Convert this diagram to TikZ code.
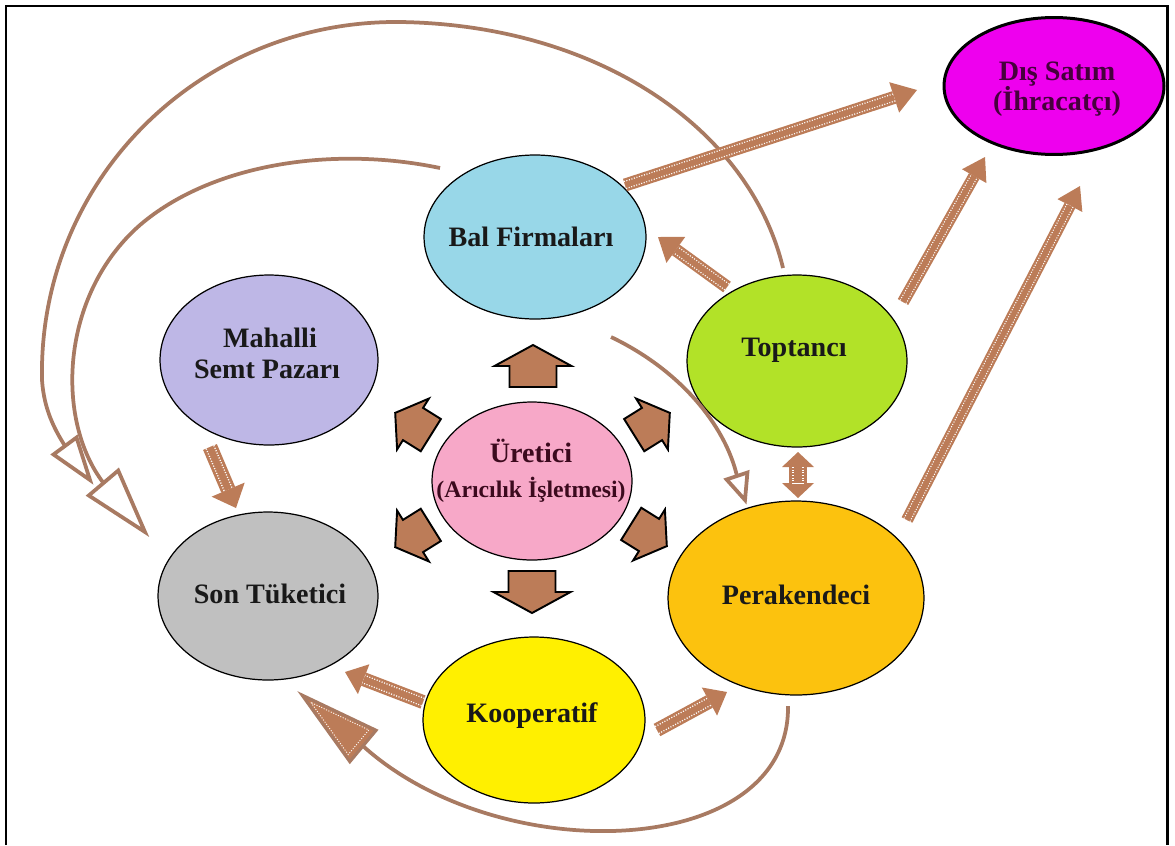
\documentclass[tikz,border=0pt]{standalone}
\usepackage{fontspec}
\setmainfont{Liberation Serif}
\usetikzlibrary{shapes.geometric,calc}
\definecolor{cbal}{RGB}{152,215,232}
\definecolor{cmah}{RGB}{190,183,230}
\definecolor{cson}{RGB}{192,192,192}
\definecolor{cure}{RGB}{247,168,200}
\definecolor{ctop}{RGB}{178,226,40}
\definecolor{cper}{RGB}{252,194,14}
\definecolor{ckoo}{RGB}{255,240,0}
\definecolor{cdis}{RGB}{238,0,238}
\definecolor{brn}{RGB}{188,124,88}
\definecolor{cbrn}{RGB}{168,122,98}
\definecolor{uretxt}{RGB}{60,10,30}
\definecolor{distxt}{RGB}{70,0,60}
% striped arrow: #1 tail, #2 tip, #3 shaft width px, #4 head half width px, #5 head length px
\newcommand\stripearrow[5]{%
  \coordinate (sb) at ($(#2)!#5*0.02cm!(#1)$);
  \fill[brn] (#2) -- ($(sb)!#4*0.02cm!90:(#2)$) -- ($(sb)!#4*0.02cm!-90:(#2)$) -- cycle;
  \draw[brn, line width=#3*0.02cm] (#1) -- (sb);
  \draw[white, line width=#3*0.013cm, dash pattern=on 0.6pt off 0.9pt] (#1) -- (sb);
  \draw[brn, line width=#3*0.009cm] (#1) -- (sb);
}
% triangular head: #1 style, #2 base mid, #3 tip, #4 half width (cm)
\newcommand\trihead[4]{%
  \coordinate (hl) at ($(#2)!#4!90:(#3)$);
  \coordinate (hr) at ($(#2)!#4!-90:(#3)$);
  \filldraw[#1] (#3) -- (hl) -- (hr) -- cycle;
}
\begin{document}
\begin{tikzpicture}[x=0.02cm,y=-0.02cm,
  ell/.style={ellipse,draw=black,line width=0.7pt,inner sep=0pt},
  lbl/.style={font=\bfseries\fontsize{16}{19}\selectfont,anchor=base,inner sep=0pt,text=black!90},
  smalllbl/.style={font=\bfseries\fontsize{13.5}{16}\selectfont,anchor=base,inner sep=0pt,text=uretxt},
  barrow/.style={fill=brn,draw=black,line width=1.1pt,line join=miter},
  flowcurve/.style={draw=cbrn,line width=0.075cm},
  headopen/.style={fill=white,draw=cbrn,line width=0.075cm,line join=miter},
  headfull/.style={fill=brn,draw=cbrn,line width=0.06cm,line join=miter}]
\useasboundingbox (0,0) rectangle (1175,845);
% frame
\draw[black,line width=0.06cm] (6,845) -- (6,6) -- (1167,6) -- (1167,845);

% ellipses
\node[ell,fill=cbal,minimum width=4.44cm,minimum height=3.28cm] (bal) at (535,237) {};
\node[ell,fill=cmah,minimum width=4.36cm,minimum height=3.40cm] (mah) at (269,360) {};
\node[ell,fill=cson,minimum width=4.40cm,minimum height=3.36cm] (son) at (268,596) {};
\node[ell,fill=cure,minimum width=4.00cm,minimum height=3.16cm] (ure) at (532,481) {};
\node[ell,fill=ctop,minimum width=4.40cm,minimum height=3.44cm] (top) at (797,361) {};
\node[ell,fill=cper,minimum width=5.12cm,minimum height=3.88cm] (per) at (796,598) {};
\node[ell,fill=ckoo,minimum width=4.44cm,minimum height=3.32cm] (koo) at (534,720) {};
\node[ell,fill=cdis,line width=0.06cm,minimum width=4.40cm,minimum height=2.74cm] (dis) at (1054,86) {};

% labels
\node[lbl] (balL) at (531,246) {Bal Firmaları};
\node[lbl] (mahL1) at (270,347) {Mahalli};
\node[lbl] (mahL2) at (267,378) {Semt Pazarı};
\node[lbl] (sonL) at (270,603) {Son Tüketici};
\node[lbl,text=uretxt] (ureL1) at (531,462) {Üretici};
\node[smalllbl] (ureL2) at (531,497) {(Arıcılık İşletmesi)};
\node[lbl] (topL) at (794,356) {Toptancı};
\node[lbl] (perL) at (796,604) {Perakendeci};
\node[lbl] (kooL) at (532,722) {Kooperatif};
\node[lbl,text=distxt] (disL1) at (1057,80) {Dış Satım};
\node[lbl,text=distxt] (disL2) at (1057,110) {(İhracatçı)};

% thin curved connectors
\coordinate (c1s) at (783,268); \coordinate (c1e) at (65,446); \coordinate (c1t) at (90,480);
\draw[flowcurve] (c1s) .. controls (750,130) and (600,25) .. (400,22)
   .. controls (200,20) and (38,180) .. (42,380)
   .. controls (44,410) and (55,430) .. (c1e);
\trihead{headopen}{c1e}{c1t}{0.286cm}

\coordinate (c2s) at (440,168); \coordinate (c2e) at (103.5,483); \coordinate (c2t) at (145,532);
\draw[flowcurve] (c2s) .. controls (330,145) and (210,165) .. (140,225)
   .. controls (60,295) and (55,420) .. (c2e);
\trihead{headopen}{c2e}{c2t}{0.386cm}

\coordinate (c3s) at (788,706); \coordinate (c3e) at (363,746); \coordinate (c3t) at (302,695);
\draw[flowcurve] (c3s) .. controls (790,860) and (500,870) .. (c3e);
\trihead{headfull}{c3e}{c3t}{0.41cm}
\coordinate (cen) at ($0.3333*(c3t)+0.3333*(hl)+0.3334*(hr)$);
\draw[white,line width=0.5pt,dash pattern=on 0.6pt off 0.9pt]
  ($(c3t)!0.22!(cen)$) -- ($(hl)!0.22!(cen)$) -- ($(hr)!0.22!(cen)$) -- cycle;

\coordinate (c4s) at (611,337); \coordinate (c4e) at (737,476); \coordinate (c4t) at (745,500);
\draw[flowcurve] (c4s) .. controls (680,370) and (725,425) .. (c4e);
\trihead{headopen}{c4e}{c4t}{0.22cm}

% block arrows around Uretici
\foreach \ang/\dx/\dy/\L/\S/\H in {90/1/-115/21/23.5/38.5, 270/0/111/21/23.5/38.5,
   32/120/-57/21/19/30, 148/-119/-57/21/19/30, 212/-119/55/21/19/30, 328/117/54/21/19/30}{
  \begin{scope}[shift={($(ure.center)+(\dx,\dy)$)},rotate=\ang]
    \filldraw[barrow] (-\L,-\S) -- (0,-\S) -- (0,-\H) -- (\L,0) -- (0,\H) -- (0,\S) -- (-\L,\S) -- cycle;
  \end{scope}
}

% striped arrows
\coordinate (a1s) at (625,185); \coordinate (a1t) at (917,90);
\stripearrow{a1s}{a1t}{13}{16}{24}
\coordinate (a2s) at (903,302); \coordinate (a2t) at (985,157);
\stripearrow{a2s}{a2t}{12}{14}{22}
\coordinate (a3s) at (907,520); \coordinate (a3t) at (1080,186);
\stripearrow{a3s}{a3t}{12}{14}{22}
\coordinate (a4s) at (727,287); \coordinate (a4t) at (658,237);
\stripearrow{a4s}{a4t}{13}{16}{22}
\coordinate (a5s) at (210,447); \coordinate (a5t) at (236,508);
\stripearrow{a5s}{a5t}{15}{18}{20}
\coordinate (a6s) at (423,702); \coordinate (a6t) at (345,672);
\stripearrow{a6s}{a6t}{14}{16}{20}
\coordinate (a7s) at (657,730); \coordinate (a7t) at (727,692);
\stripearrow{a7s}{a7t}{14}{16}{20}

% double arrow Toptanci <-> Perakendeci
\coordinate (dt) at (798,452); \coordinate (db) at (798,498);
\coordinate (dtb) at ($(dt)!0.30cm!(db)$); \coordinate (dbb) at ($(db)!0.30cm!(dt)$);
\fill[brn] (dt) -- ($(dtb)!0.32cm!90:(dt)$) -- ($(dtb)!0.32cm!-90:(dt)$) -- cycle;
\fill[brn] (db) -- ($(dbb)!0.32cm!90:(db)$) -- ($(dbb)!0.32cm!-90:(db)$) -- cycle;
\draw[brn,line width=0.36cm] (dtb) -- (dbb);
\draw[white,line width=0.23cm,dash pattern=on 0.6pt off 0.9pt] (dtb) -- (dbb);
\draw[brn,line width=0.16cm] (dtb) -- (dbb);
\end{tikzpicture}
\end{document}
